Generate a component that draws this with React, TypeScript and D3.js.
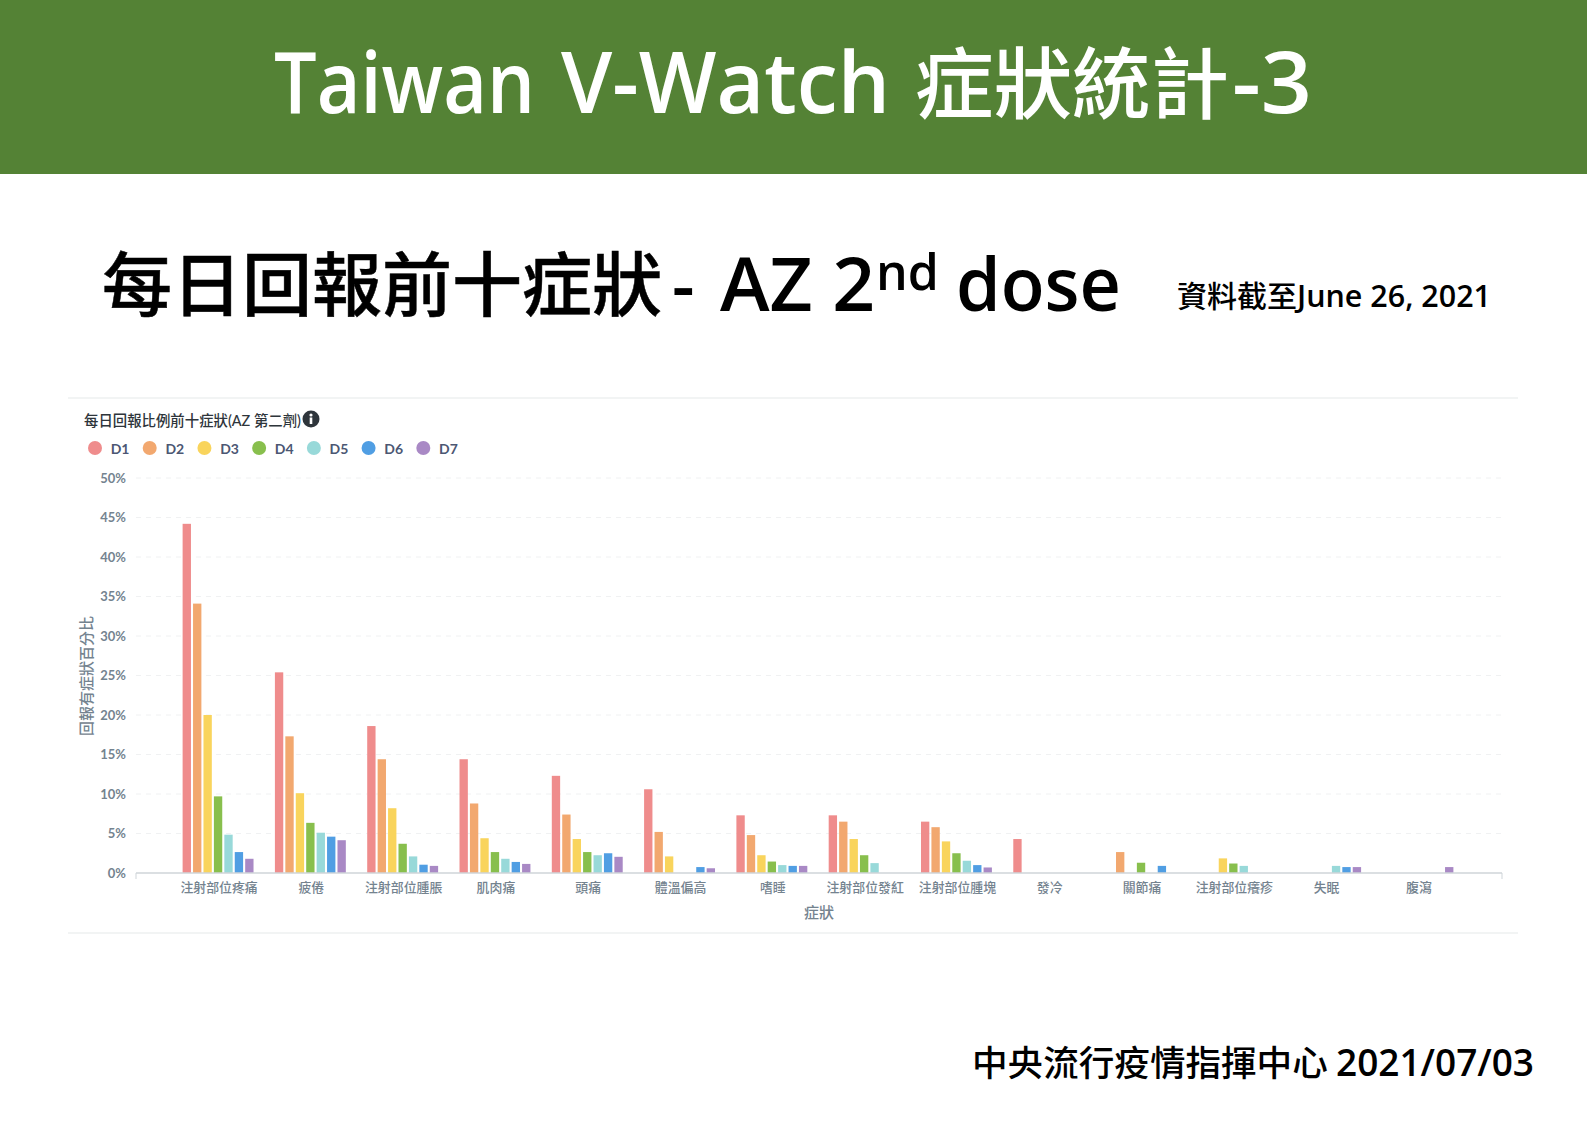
import React from "react";
import * as d3 from "d3";

const categories = ["注射部位疼痛","疲倦","注射部位腫脹","肌肉痛","頭痛","體溫偏高","嗜睡","注射部位發紅","注射部位腫塊","發冷","關節痛","注射部位癢疹","失眠","腹瀉"];
const days = ["D1","D2","D3","D4","D5","D6","D7"];
const colors = ["#EF8C8C","#F2A86F","#F9D45C","#88BF4D","#98D9D9","#509EE3","#A989C5"];
const yTicks = [0,5,10,15,20,25,30,35,40,45,50];
const D1 = [44.2,25.4,18.6,14.4,12.3,10.6,7.3,7.3,6.5,4.3,0,0,0,0];
const D2 = [34.1,17.3,14.4,8.8,7.4,5.2,4.8,6.5,5.8,0,2.65,0,0,0];
const D3 = [20.0,10.1,8.2,4.4,4.3,2.1,2.25,4.3,4.0,0,0,1.85,0,0];
const D4 = [9.7,6.35,3.7,2.65,2.65,0,1.45,2.25,2.5,0,1.3,1.2,0,0];
const D5 = [4.85,5.1,2.1,1.8,2.25,0,1.0,1.25,1.55,0,0,0.9,0.9,0];
const D6 = [2.65,4.6,1.05,1.4,2.5,0.75,0.9,0,1.0,0,0.9,0,0.75,0];
const D7 = [1.8,4.15,0.9,1.15,2.05,0.6,0.9,0,0.7,0,0,0,0.75,0.75];
const series = [D1,D2,D3,D4,D5,D6,D7];

const W = 1587, H = 1123;
const lato = "Lato,'Noto Sans CJK TC',sans-serif";
const open = "'Open Sans',sans-serif";
const cjk = "'Noto Sans CJK TC',sans-serif";

export default function App() {
  const x0 = d3.scaleBand<string>().domain(categories).range([136, 1502]).paddingInner(0).paddingOuter(0.4);
  const x1 = d3.scaleBand<string>().domain(days).range([0, 73]).paddingInner(0.2).paddingOuter(0.1);
  const y = d3.scaleLinear().domain([0, 50]).range([873, 478]);
  const legendX = d3.scaleLinear().domain([0, 6]).range([95, 423.3]);
  return (
    <svg width={W} height={H} viewBox={`0 0 ${W} ${H}`} style={{ position: "absolute", left: 0, top: 0, display: "block", background: "#fff" }}>
      <rect x={0} y={0} width={W} height={174} fill="#548235" />
      <g fill="#fff" fontFamily={open} fontSize={85} fontWeight={600}>
        <text x={274} y={113} textLength={261} lengthAdjust="spacingAndGlyphs">Taiwan</text>
        <text x={561} y={113} textLength={329} lengthAdjust="spacingAndGlyphs">V-Watch</text>
        <text x={915} y={113} fontFamily={cjk} fontSize={78.5} fontWeight={500}>症狀統計</text>
        <text x={1232} y={113} textLength={80} lengthAdjust="spacingAndGlyphs">-3</text>
      </g>

      <g fill="#000" fontFamily={open} fontSize={75} fontWeight={600}>
        <text x={102} y={311} fontFamily={cjk} fontSize={70} fontWeight={500} stroke="#000" strokeWidth={0.5}>每日回報前十症狀</text>
        <text x={672} y={311} fontSize={70}>-</text>
        <text x={720} y={311}>AZ 2</text>
        <text x={876} y={290} fontSize={50}>nd</text>
        <text x={956} y={311} textLength={165} lengthAdjust="spacingAndGlyphs">dose</text>
      </g>
      <g fill="#000" fontFamily={open} fontSize={31} fontWeight={600}>
        <text x={1177} y={307} fontFamily={cjk} fontSize={30} fontWeight={500}>資料截至</text>
        <text x={1297} y={307} textLength={194} lengthAdjust="spacingAndGlyphs">June 26, 2021</text>
      </g>
      <g fill="#000" fontFamily={open} fontSize={37.5} fontWeight={600}>
        <text x={972} y={1076} fontFamily={cjk} fontSize={35.6} fontWeight={500}>中央流行疫情指揮中心</text>
        <text x={1336} y={1076} textLength={198} lengthAdjust="spacingAndGlyphs">2021/07/03</text>
      </g>

      <line x1={68} x2={1518} y1={398} y2={398} stroke="#eef0f1" strokeWidth={1.5} />
      <line x1={68} x2={1518} y1={933} y2={933} stroke="#eef0f1" strokeWidth={1.5} />

      <text x={84} y={426} fontFamily={lato} fontSize={14.4} fontWeight={500} fill="#2e353b">每日回報比例前十症狀(AZ 第二劑)</text>
      <circle cx={311} cy={419} r={8.5} fill="#2e353b" />
      <circle cx={311} cy={415} r={1.6} fill="#fff" />
      <rect x={309.7} y={417.5} width={2.6} height={6.5} fill="#fff" />

      {days.map((d, i) => (
        <g key={d}>
          <circle cx={legendX(i)} cy={448} r={7} fill={colors[i]} />
          <text x={legendX(i) + 15.7} y={453.5} fontFamily={lato} fontSize={14} fontWeight={700} fill="#4c5773">{d}</text>
        </g>
      ))}

      {yTicks.map((t) => (
        <g key={t}>
          {t > 0 && <line x1={136} x2={1502} y1={y(t)} y2={y(t)} stroke="#f0f1f2" strokeWidth={1} strokeDasharray="5 5" />}
          <text x={126} y={y(t) + 4.8} textAnchor="end" fontFamily={lato} fontSize={13} fontWeight={700} fill="#74838f">{t}%</text>
        </g>
      ))}

      {categories.map((c, ci) => {
        const cx = x0(c)! + x0.bandwidth() / 2;
        return (
          <g key={c}>
            {series.map((s, si) => s[ci] > 0 && (
              <rect key={si} x={cx - 37.5 + x1(days[si])!} y={y(s[ci])} width={x1.bandwidth()} height={y(0) - y(s[ci])} fill={colors[si]} />
            ))}
            <text x={cx} y={892} textAnchor="middle" fontFamily={lato} fontSize={12.9} fontWeight={500} fill="#74838f">{c}</text>
          </g>
        );
      })}

      <line x1={136} x2={1502} y1={873} y2={873} stroke="#cfd5d9" strokeWidth={1.5} />
      <line x1={136} x2={136} y1={873} y2={879} stroke="#cfd5d9" strokeWidth={1} />
      <line x1={1502} x2={1502} y1={873} y2={879} stroke="#cfd5d9" strokeWidth={1} />

      <text x={819} y={918} textAnchor="middle" fontFamily={lato} fontSize={15} fontWeight={500} fill="#74838f">症狀</text>
      <text transform="translate(92,676) rotate(-90)" textAnchor="middle" fontFamily={lato} fontSize={15} fontWeight={500} fill="#74838f">回報有症狀百分比</text>
    </svg>
  );
}
